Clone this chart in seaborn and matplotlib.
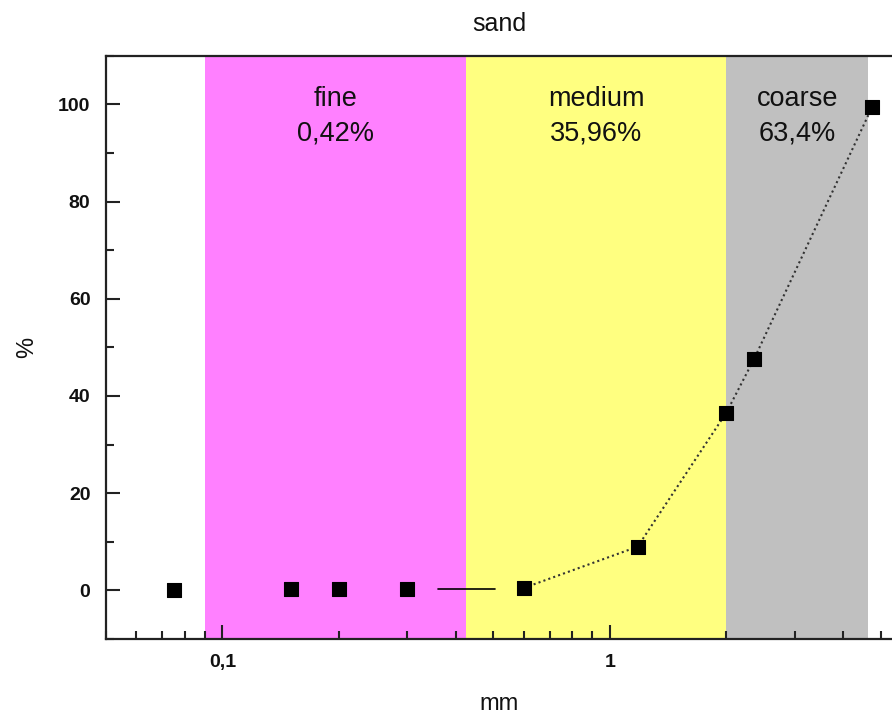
import numpy as np
import pandas as pd
import matplotlib
matplotlib.use("Agg")
import matplotlib.pyplot as plt
import matplotlib.ticker as mticker
import seaborn as sns

sns.set_style("ticks")
plt.rcParams['font.family'] = ['Liberation Sans', 'DejaVu Sans']
plt.rcParams['text.color'] = "#111111"
plt.rcParams['axes.labelcolor'] = "#111111"

# sieve sizes (mm) and cumulative passing (%)
size_mm = [0.075, 0.15, 0.2, 0.3, 0.6, 1.18, 2.0, 2.36, 4.75]
passing = [0.0, 0.2, 0.2, 0.3, 0.5, 9.0, 36.6, 47.7, 99.4]

# short solid segment between 0.3 and 0.6
seg_x = [0.36, 0.505]
seg_y = [0.3, 0.3]

# sand fractions
band_names = ["fine", "medium", "coarse"]
band_pct = ["0,42%", "35,96%", "63,4%"]
band_lo = [0.09, 0.425, 2.0]
band_hi = [0.425, 2.0, 4.65]
band_colors = ["#FF80FF", "#FFFF80", "#C0C0C0"]

df = pd.DataFrame({"mm": size_mm, "pct": passing})

fig = plt.figure(figsize=(8.92, 7.2), dpi=100)
ax = fig.add_axes([0.1185, 0.1125, 0.8815, 0.81])

for lo, hi, c, name, pct in zip(band_lo, band_hi, band_colors, band_names, band_pct):
    ax.axvspan(lo, hi, color=c, lw=0, zorder=0)
    ax.text(np.sqrt(lo * hi), 97.6, name + "\n" + pct, ha="center", va="center",
            fontsize=19.5, linespacing=1.45)

sns.lineplot(data=df.iloc[4:], x="mm", y="pct", sort=False, ax=ax,
             color="#333333", linestyle=(0, (1, 1.5)), lw=1.5, zorder=2)
ax.plot(seg_x, seg_y, color="black", lw=1.2, zorder=2)
sns.scatterplot(data=df, x="mm", y="pct", marker="s", s=95, color="black",
                edgecolor="black", ax=ax, zorder=3)

ax.set_xscale("log")
ax.set_xlim(0.05, 5.35)
ax.set_ylim(-10, 110)

ax.xaxis.set_major_locator(mticker.FixedLocator([0.1, 1]))
ax.xaxis.set_major_formatter(mticker.FixedFormatter(["0,1", "1"]))
ax.xaxis.set_minor_locator(mticker.LogLocator(base=10, subs=np.arange(2, 10)))
ax.xaxis.set_minor_formatter(mticker.NullFormatter())
ax.yaxis.set_major_locator(mticker.MultipleLocator(20))
ax.yaxis.set_minor_locator(mticker.MultipleLocator(10))

ax.tick_params(which="both", direction="in", width=1.5, top=False, right=False,
               colors="#222222", labelcolor="#111111")
ax.tick_params(which="major", length=10, labelsize=14, pad=11)
ax.tick_params(which="minor", length=6)
for t in ax.get_xticklabels() + ax.get_yticklabels():
    t.set_fontweight("bold")

for side in ["left", "bottom", "top"]:
    ax.spines[side].set_linewidth(1.6)
    ax.spines[side].set_color("#222222")
ax.spines["right"].set_visible(False)

ax.set_xlabel("mm", fontsize=17, labelpad=16)
ax.set_ylabel("%", fontsize=17, labelpad=14)
ax.set_title("sand", fontsize=18, pad=18)

fig.savefig("out.png", dpi=100)
